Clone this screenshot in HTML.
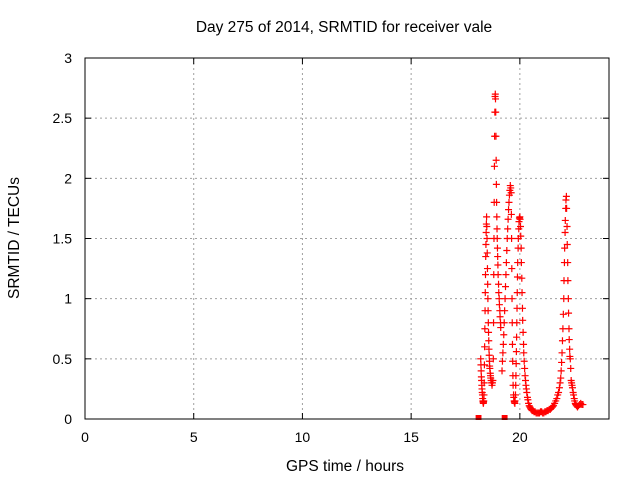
<!DOCTYPE html>
<html><head><meta charset="utf-8"><style>
body{margin:0;background:#fff;}
svg{display:block;font-family:"Liberation Sans",sans-serif;}
</style></head><body>
<svg id="chart" width="640" height="480">
<rect width="640" height="480" fill="#fff"/>
<text x="344" y="32" font-size="15.5" text-anchor="middle">Day 275 of 2014, SRMTID for receiver vale</text>
<text x="345" y="471" font-size="15.5" text-anchor="middle">GPS time / hours</text>
<text transform="translate(19,238) rotate(-90)" font-size="15.5" text-anchor="middle">SRMTID / TECUs</text>
<g id="grid"></g><g id="ticks"></g><g id="marks"></g>
<rect x="85" y="58" width="524" height="361" fill="none" stroke="#000" stroke-width="1"/>
</svg>
<script>
const xTicks=[0,5,10,15,20];
const yTicks=[0,0.5,1,1.5,2,2.5,3];
const yTickLabels=["0","0.5","1","1.5","2","2.5","3"];
const hours=[18.20,18.21,18.22,18.23,18.24,18.25,18.26,18.27,18.28,18.29,18.30,18.31,18.32,18.33,18.34,18.35,18.36,18.37,18.38,18.39,18.40,18.41,18.42,18.43,18.44,18.45,18.46,18.47,18.48,18.49,18.50,18.51,18.52,18.53,18.54,18.55,18.56,18.57,18.58,18.59,18.60,18.61,18.62,18.64,18.65,18.66,18.68,18.70,18.72,18.74,18.76,18.78,18.79,18.80,18.81,18.82,18.83,18.84,18.85,18.86,18.87,18.88,18.89,18.90,18.91,18.92,18.93,18.94,18.95,18.96,18.97,18.98,18.99,19.00,19.02,19.03,19.05,19.06,19.08,19.09,19.11,19.12,
19.18,19.20,19.22,19.24,19.26,19.28,19.30,19.32,19.34,19.36,19.38,19.40,19.42,19.44,19.46,19.48,19.50,19.52,19.54,19.56,19.58,19.60,19.61,19.62,19.63,19.64,19.65,19.66,19.67,19.68,19.69,19.71,19.72,19.74,19.75,19.77,19.78,19.80,19.81,19.82,19.83,19.84,19.85,19.86,19.87,19.88,19.89,19.90,19.92,19.93,19.95,19.96,19.98,20.00,20.01,20.03,20.04,20.06,20.07,20.09,20.10,20.12,20.13,20.15,20.17,20.18,20.20,20.22,20.24,20.26,20.28,20.30,20.32,20.35,20.37,20.40,20.43,20.46,20.49,20.52,20.56,20.6,20.65,20.7,20.75,20.8,20.85,20.9,20.95,21.0,21.05,21.1,21.15,21.2,21.25,21.3,21.35,21.4,21.45,21.5,21.55,21.6,21.65,21.7,21.74,21.78,21.82,21.85,21.88,21.9,21.92,21.94,21.96,21.98,22.00,22.02,22.03,22.05,22.06,22.08,22.09,22.11,22.12,22.14,22.15,22.17,22.18,22.2,22.21,22.23,22.24,22.26,22.27,22.29,22.30,22.32,22.34,22.36,22.38,22.4,22.42,22.45,22.47,22.5,22.52,22.55,22.57,22.6,22.65,22.7,22.75,22.8,22.85,22.9];
const values=[0.5,0.45,0.4,0.35,0.32,0.28,0.25,0.22,0.2,0.17,0.15,0.14,0.13,0.14,0.15,0.2,0.3,0.45,0.6,0.75,0.9,1.05,1.2,1.35,1.45,1.55,1.62,1.68,1.6,1.5,1.38,1.25,1.12,1.0,0.9,0.8,0.72,0.65,0.58,0.53,0.48,0.44,0.42,0.38,0.36,0.34,0.32,0.3,0.28,0.3,0.32,0.5,0.8,1.2,1.5,1.8,2.1,2.35,2.55,2.68,2.7,2.66,2.55,2.35,2.15,1.95,1.8,1.68,1.58,1.5,1.42,1.35,1.28,1.2,1.12,1.05,1.0,0.95,0.9,0.85,0.8,0.76,
0.4,0.48,0.55,0.62,0.7,0.8,0.9,1.0,1.1,1.2,1.3,1.4,1.5,1.58,1.66,1.74,1.8,1.86,1.9,1.94,1.92,1.88,1.7,1.5,1.25,1.0,0.8,0.62,0.48,0.36,0.28,0.2,0.18,0.15,0.14,0.13,0.15,0.2,0.28,0.36,0.46,0.56,0.68,0.8,0.92,1.05,1.18,1.3,1.42,1.5,1.58,1.64,1.67,1.68,1.66,1.6,1.52,1.42,1.3,1.17,1.05,0.92,0.82,0.72,0.62,0.55,0.48,0.42,0.36,0.32,0.28,0.25,0.22,0.18,0.16,0.13,0.11,0.1,0.09,0.08,0.07,0.07,0.06,0.06,0.05,0.05,0.05,0.05,0.06,0.06,0.05,0.05,0.06,0.06,0.07,0.07,0.08,0.08,0.09,0.1,0.11,0.13,0.15,0.17,0.2,0.22,0.26,0.3,0.34,0.4,0.47,0.55,0.65,0.75,0.87,1.0,1.15,1.3,1.42,1.55,1.65,1.75,1.82,1.85,1.75,1.6,1.45,1.3,1.15,1.0,0.88,0.75,0.66,0.58,0.52,0.5,0.42,0.32,0.3,0.28,0.26,0.22,0.2,0.17,0.15,0.13,0.12,0.11,0.1,0.11,0.12,0.13,0.12,0.12];
const zeroHours=[18.08,18.1,18.12,19.28,19.3,19.32];
const NS="http://www.w3.org/2000/svg";
const X0=85,X1=609,Y0=419,Y1=58,XMAX=24.1,YMAX=3;
function sx(h){return X0+h/XMAX*(X1-X0);}
function sy(v){return Y0-v/YMAX*(Y0-Y1);}
function mk(t,a,p){const e=document.createElementNS(NS,t);for(const k in a)e.setAttribute(k,a[k]);p.appendChild(e);return e;}
const grid=document.getElementById('grid'),ticks=document.getElementById('ticks'),marks=document.getElementById('marks');
xTicks.forEach(t=>{const x=sx(t);
 if(t>0){const g=mk('line',{x1:x,y1:Y1,x2:x,y2:Y0,stroke:'#a0a0a0','stroke-dasharray':'2,3'},grid);
 
 }
 mk('line',{x1:x,y1:Y0,x2:x,y2:Y0-6,stroke:'#000'},ticks);
 mk('line',{x1:x,y1:Y1,x2:x,y2:Y1+6,stroke:'#000'},ticks);
 const l=mk('text',{x:x,y:442,'font-size':14,'text-anchor':'middle'},ticks);l.textContent=t;
 
 
});
yTicks.forEach((t,i)=>{const y=sy(t);
 if(t>0&&t<3){const g=mk('line',{x1:X0,y1:y,x2:X1,y2:y,stroke:'#a0a0a0','stroke-dasharray':'2,3'},grid);
 
 }
 mk('line',{x1:X0,y1:y,x2:X0+6,y2:y,stroke:'#000'},ticks);
 mk('line',{x1:X1,y1:y,x2:X1-6,y2:y,stroke:'#000'},ticks);
 const l=mk('text',{x:72,y:y+5,'font-size':14,'text-anchor':'end'},ticks);l.textContent=yTickLabels[i];
 
 
});
hours.forEach((h,i)=>{const x=sx(h),y=sy(values[i]);
 const p=mk('path',{d:`M${x-3.5},${y}H${x+3.5}M${x},${y-3.5}V${y+3.5}`,stroke:'#f00','stroke-width':1.2,fill:'none'},marks);
 
 
});
zeroHours.forEach(h=>{const x=sx(h);
 const r=mk('rect',{x:x-2.5,y:Y0-4,width:5,height:5,fill:'#f00'},marks);
 
 
});
</script>
</body></html>
